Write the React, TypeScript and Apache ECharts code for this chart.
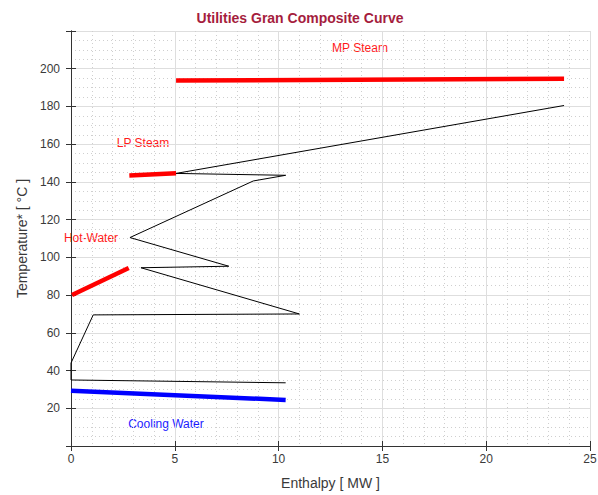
import React, { useEffect, useRef } from "react";
import * as echarts from "echarts";

// Grand composite curve of the site (enthalpy MW, shifted temperature °C)
const gccEnthalpy = [10.34, 0, 0, 1.07, 11.0, 3.37, 7.6, 2.84, 8.78, 10.34, 5.06, 23.75];
const gccTemp = [33.5, 35, 44, 69.5, 70, 94.5, 95.3, 110.5, 140.5, 143.5, 144.5, 180.5];

// Utility profiles
const mpSteamH = [5.06, 23.75];
const mpSteamT = [193.7, 194.7];
const lpSteamH = [2.81, 5.06];
const lpSteamT = [143.4, 144.6];
const hotWaterH = [0.05, 2.78];
const hotWaterT = [80, 94.4];
const coolingH = [0, 10.34];
const coolingT = [29.3, 24.4];

const xTicks = { min: 0, max: 25, interval: 5 };
const yTicks = { min: 0, max: 220, interval: 20 };

const zip = (xs: number[], ys: number[]) => xs.map((x, i) => [x, ys[i]]);

const FONT = "Liberation Sans, Arial, Helvetica, sans-serif";

export default function App() {
  const ref = useRef<HTMLDivElement>(null);

  useEffect(() => {
    if (!ref.current) return;
    const chart = echarts.init(ref.current, undefined, { renderer: "svg" });

    const axisLine = { show: true, lineStyle: { color: "#333", width: 1 } };
    const tick = { show: true, inside: true, length: 5, lineStyle: { color: "#333" } };
    const split = { show: true, lineStyle: { color: "#dedede", width: 1 } };
    const minorSplit = { show: true, lineStyle: { color: "#cfcfcf", width: 1, type: [1, 3] as any } };
    const label = { color: "#3a3a3a", fontSize: 12, fontFamily: FONT };

    const utility = (name: string, h: number[], t: number[], color: string) => ({
      name,
      type: "line",
      data: zip(h, t),
      symbol: "none",
      lineStyle: { color, width: 4.5, cap: "butt" },
      xAxisIndex: 0,
      yAxisIndex: 0,
      z: 3,
    });

    const note = (text: string, x: number, y: number, fill: string) => ({
      type: "text",
      x,
      y,
      style: { text, fill, font: `12px ${FONT}`, textAlign: "center", textVerticalAlign: "middle" },
    });

    chart.setOption({
      animation: false,
      backgroundColor: "#fff",
      title: {
        text: "Utilities Gran Composite Curve",
        left: 295,
        top: 6,
        textAlign: "center",
        textStyle: { color: "#a51d3d", fontSize: 14, fontWeight: "bold", fontFamily: FONT },
      },
      grid: { left: 71, top: 31, width: 519, height: 415, containLabel: false, outerBoundsMode: "none" },
      xAxis: [
        {
          type: "value",
          ...xTicks,
          position: "bottom",
          name: "Enthalpy [ MW ]",
          nameLocation: "middle",
          nameGap: 30,
          nameTextStyle: { color: "#3a3a3a", fontSize: 14, fontFamily: FONT },
          axisLine,
          axisTick: tick,
          axisLabel: { ...label, margin: 7 },
          splitLine: split,
          minorTick: { show: false, splitNumber: 5 },
          minorSplitLine: minorSplit,
        },
        {
          type: "value",
          ...xTicks,
          position: "top",
          axisLine,
          axisTick: tick,
          axisLabel: { show: false },
          splitLine: { show: false },
        },
      ],
      yAxis: [
        {
          type: "value",
          ...yTicks,
          position: "left",
          name: "Temperature* [ °C ]",
          nameLocation: "middle",
          nameGap: 42,
          nameTextStyle: { color: "#3a3a3a", fontSize: 14, fontFamily: FONT },
          axisLine,
          axisTick: tick,
          axisLabel: {
            ...label,
            margin: 11,
            formatter: (v: number) => (v === 0 || v === 220 ? "" : String(v)),
          },
          splitLine: split,
          minorTick: { show: false, splitNumber: 4 },
          minorSplitLine: minorSplit,
        },
        {
          type: "value",
          ...yTicks,
          position: "right",
          axisLine,
          axisTick: tick,
          axisLabel: { show: false },
          splitLine: { show: false },
        },
      ],
      series: [
        {
          name: "GCC",
          type: "line",
          data: zip(gccEnthalpy, gccTemp),
          symbol: "none",
          lineStyle: { color: "#000", width: 1 },
          z: 4,
        },
        utility("MP Steam", mpSteamH, mpSteamT, "#ff0000"),
        utility("LP Steam", lpSteamH, lpSteamT, "#ff0000"),
        utility("Hot-Water", hotWaterH, hotWaterT, "#ff0000"),
        utility("Cooling Water", coolingH, coolingT, "#0000ff"),
      ],
      graphic: [
        note("MP Steam", 360, 48, "#ff1a1a"),
        note("LP Steam", 143, 143, "#ff1a1a"),
        note("Hot-Water", 91, 238, "#ff1a1a"),
        note("Cooling Water", 166, 424, "#1a1aff"),
      ],
    });

    return () => chart.dispose();
  }, []);

  return (
    <div
      ref={ref}
      style={{ position: "fixed", left: 0, top: 0, width: 598, height: 495 }}
    />
  );
}
